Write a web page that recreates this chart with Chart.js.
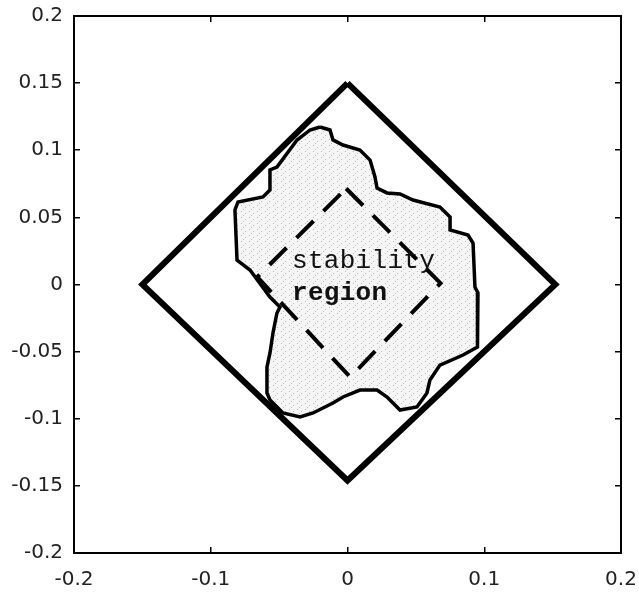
<!DOCTYPE html>
<html>
<head>
<meta charset="utf-8">
<script src="https://cdn.jsdelivr.net/npm/chart.js@4.4.1/dist/chart.umd.min.js"></script>
<style>
body { margin: 0; background: #fff; }
canvas { display: block; }
</style>
</head>
<body>
<canvas id="chart" width="639" height="597"></canvas>
<script>
// tick values
var xTicks = [-0.2, -0.1, 0, 0.1, 0.2];
var yTicks = [-0.2, -0.15, -0.1, -0.05, 0, 0.05, 0.1, 0.15, 0.2];

// outer solid diamond
var outerX = [0, 0.152, 0, -0.15, 0];
var outerY = [0.15, 0, -0.146, 0, 0.15];

// inner dashed diamond
var innerX = [-0.001, 0.068, 0.002, -0.066, -0.001];
var innerY = [0.0715, 0.001, -0.069, 0.0056, 0.0715];

// irregular stability region outline
var blobX = [-0.0201, -0.0128, -0.0106, -0.0033, 0.0091, 0.0165, 0.0201, 0.0216, 0.0289, 0.0384,
             0.0479, 0.0676, 0.0750, 0.0750, 0.0881, 0.0918, 0.0932, 0.0954, 0.0947, 0.0954,
             0.0845, 0.0676, 0.0603, 0.0581, 0.0508, 0.0384, 0.0289, 0.0216, 0.0091, -0.0033,
             -0.0106, -0.0252, -0.0347, -0.0472, -0.0567, -0.0589, -0.0589, -0.0567, -0.0545, -0.0516,
             -0.0494, -0.0567, -0.0713, -0.0808, -0.0823, -0.0801, -0.0618, -0.0567, -0.0567, -0.0516,
             -0.0369, -0.0274, -0.0201];
var blobY = [0.1173, 0.1151, 0.1077, 0.1039, 0.1002, 0.0927, 0.0801, 0.0719, 0.0682, 0.0674,
             0.0629, 0.0577, 0.0503, 0.0406, 0.0369, 0.0309, -0.0019, -0.0063, -0.0264, -0.0466,
             -0.0525, -0.0600, -0.0711, -0.0808, -0.0912, -0.0935, -0.0838, -0.0786, -0.0786, -0.0838,
             -0.0883, -0.0957, -0.0987, -0.0957, -0.0860, -0.0808, -0.0615, -0.0510, -0.0361, -0.0212,
             -0.0168, -0.0093, 0.0108, 0.0182, 0.0555, 0.0615, 0.0652, 0.0704, 0.0853, 0.0875,
             0.1076, 0.1151, 0.1173];

// annotation text
var labelText = ['stability', 'region'];
var labelX = [-0.0406, -0.0406];
var labelY = [0.0123, -0.0115];
var labelBold = [false, true];

function toPoints(xs, ys) {
    var pts = [];
    for (var i = 0; i < xs.length; i++) {
        pts.push({x: xs[i], y: ys[i]});
    }
    return pts;
}

function fmt(v) {
    return String(Math.round(v * 100) / 100);
}

// speckled light grey fill, fixed dot layout
function speckle() {
    var c = document.createElement('canvas');
    c.width = 8; c.height = 6;
    var g = c.getContext('2d');
    g.fillStyle = '#f5f5f5';
    g.fillRect(0, 0, 8, 6);
    g.fillStyle = '#b8b8b8';
    g.fillRect(1, 1, 1, 1);
    g.fillRect(5, 3, 1, 1);
    g.fillRect(3, 5, 1, 1);
    return g.createPattern(c, 'repeat');
}

var textPlugin = {
    id: 'regionText',
    afterDatasetsDraw: function(chart) {
        var ctx = chart.ctx;
        var xs = chart.scales.x, ys = chart.scales.y;
        ctx.save();
        ctx.fillStyle = '#111';
        ctx.textBaseline = 'alphabetic';
        ctx.textAlign = 'left';
        for (var i = 0; i < labelText.length; i++) {
            ctx.font = (labelBold[i] ? 'bold ' : '') + '26px "Liberation Mono", monospace';
            ctx.letterSpacing = '0.3px';
            ctx.fillText(labelText[i], xs.getPixelForValue(labelX[i]), ys.getPixelForValue(labelY[i]));
        }
        ctx.restore();
    }
};

// inward tick marks (negative length points into the plot)
function innerGrid() {
    return {drawOnChartArea: false, drawTicks: true, tickLength: -6, color: '#000', lineWidth: 1.5};
}
// label axes: invisible tick marks only used to push labels out
function labelGrid(len) {
    return {drawOnChartArea: false, drawTicks: true, tickLength: len, tickColor: 'rgba(0,0,0,0)'};
}
var axisBorder = {display: true, color: '#000', width: 2};
var noBorder = {display: false};
var tickFont = {family: '"DejaVu Sans", sans-serif', size: 20};

function xTickSetter(s) { s.ticks = xTicks.map(function(v) { return {value: v}; }); }
function yTickSetter(s) { s.ticks = yTicks.map(function(v) { return {value: v}; }); }

var ctx = document.getElementById('chart').getContext('2d');

var myChart = new Chart(ctx, {
    type: 'scatter',
    data: {
        datasets: [{
            data: toPoints(outerX, outerY),
            showLine: true,
            borderColor: '#000',
            borderWidth: 6,
            pointRadius: 0,
            fill: false
        }, {
            data: toPoints(innerX, innerY),
            showLine: true,
            borderColor: '#000',
            borderWidth: 4,
            borderDash: [24, 14],
            pointRadius: 0,
            fill: false
        }, {
            data: toPoints(blobX, blobY),
            showLine: true,
            borderColor: '#000',
            borderWidth: 3.5,
            backgroundColor: speckle(),
            pointRadius: 0,
            fill: 'shape'
        }]
    },
    options: {
        responsive: false,
        animation: false,
        layout: {padding: 0},
        plugins: {legend: {display: false}, tooltip: {enabled: false}},
        scales: {
            x: {
                type: 'linear', position: 'bottom', min: -0.2, max: 0.2, weight: 0,
                afterBuildTicks: xTickSetter,
                afterFit: function(s) { s.height = 44; },
                grid: labelGrid(15), border: axisBorder,
                ticks: {color: '#222', font: tickFont, padding: 0, maxRotation: 0,
                        callback: function(v) { return fmt(v); }}
            },
            y: {
                type: 'linear', position: 'left', min: -0.2, max: 0.2, weight: 0,
                afterBuildTicks: yTickSetter,
                afterFit: function(s) { s.width = 74; },
                grid: labelGrid(11), border: axisBorder,
                ticks: {color: '#222', font: tickFont, padding: 0,
                        callback: function(v) { return fmt(v); }}
            },
            x3: {
                type: 'linear', position: 'bottom', min: -0.2, max: 0.2, weight: -1,
                afterBuildTicks: xTickSetter,
                afterFit: function(s) { s.height = 0; },
                grid: innerGrid(), border: noBorder,
                ticks: {display: false}
            },
            y3: {
                type: 'linear', position: 'left', min: -0.2, max: 0.2, weight: -1,
                afterBuildTicks: yTickSetter,
                afterFit: function(s) { s.width = 0; },
                grid: innerGrid(), border: noBorder,
                ticks: {display: false}
            },
            x2: {
                type: 'linear', position: 'top', min: -0.2, max: 0.2,
                afterBuildTicks: xTickSetter,
                afterFit: function(s) { s.height = 16; },
                grid: innerGrid(), border: axisBorder,
                ticks: {display: false}
            },
            y2: {
                type: 'linear', position: 'right', min: -0.2, max: 0.2,
                afterBuildTicks: yTickSetter,
                afterFit: function(s) { s.width = 18; },
                grid: innerGrid(), border: axisBorder,
                ticks: {display: false}
            }
        }
    },
    plugins: [textPlugin]
});
</script>
</body>
</html>
